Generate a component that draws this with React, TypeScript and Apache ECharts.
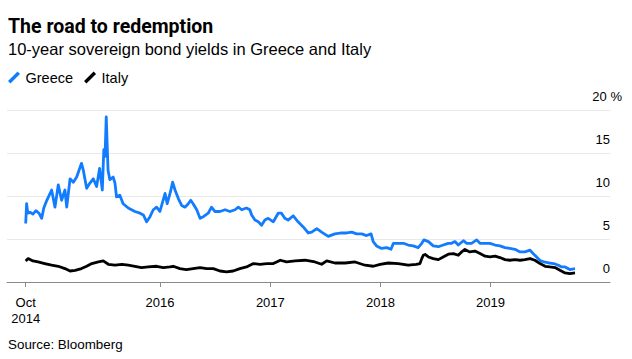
import React, { useEffect, useRef } from "react";
import * as echarts from "echarts";

const greeceDates = [
  "2014-10-13","2014-10-16","2014-10-20","2014-10-27","2014-11-06","2014-11-16","2014-11-26","2014-12-05","2014-12-12","2014-12-22",
  "2015-01-07","2015-01-18","2015-01-29","2015-02-09","2015-02-20","2015-02-26","2015-03-09","2015-03-20","2015-03-31","2015-04-16",
  "2015-04-22","2015-05-03","2015-05-14","2015-05-25","2015-06-05","2015-06-15","2015-06-24","2015-06-29","2015-07-03","2015-07-07",
  "2015-07-13","2015-07-19","2015-07-30","2015-08-05","2015-08-10","2015-08-21","2015-09-01","2015-09-18","2015-10-10","2015-10-27",
  "2015-11-07","2015-11-18","2015-11-29","2015-12-10","2015-12-21","2016-01-01","2016-01-18","2016-01-25","2016-02-05","2016-02-12",
  "2016-02-20","2016-03-02","2016-03-13","2016-03-24","2016-04-04","2016-04-12","2016-04-20","2016-05-02","2016-05-13","2016-05-24",
  "2016-06-09","2016-06-20","2016-07-01","2016-07-18","2016-08-04","2016-08-20","2016-09-06","2016-09-17","2016-09-28","2016-10-14",
  "2016-10-25","2016-10-31","2016-11-11","2016-11-22","2016-12-03","2016-12-14","2016-12-25","2017-01-11","2017-01-27","2017-02-07",
  "2017-02-18","2017-03-01","2017-03-18","2017-04-03","2017-04-20","2017-05-07","2017-05-18","2017-06-04","2017-06-20","2017-07-12",
  "2017-08-03","2017-08-25","2017-09-11","2017-09-28","2017-10-14","2017-10-31","2017-11-16","2017-12-01","2017-12-08","2017-12-19",
  "2018-01-05","2018-01-22","2018-02-05","2018-02-13","2018-03-01","2018-03-18","2018-04-03","2018-04-20","2018-05-06","2018-05-18",
  "2018-05-25","2018-06-09","2018-06-25","2018-07-12","2018-07-28","2018-08-14","2018-08-25","2018-09-05","2018-09-16","2018-10-03",
  "2018-10-14","2018-10-30","2018-11-16","2018-11-27","2018-12-14","2018-12-30","2019-01-16","2019-02-01","2019-02-18","2019-03-06",
  "2019-03-23","2019-04-09","2019-04-25","2019-05-12","2019-05-28","2019-06-14","2019-07-01","2019-07-17","2019-08-03","2019-08-14",
  "2019-08-25","2019-09-05","2019-09-21","2019-10-08"
];
const greeceValues = [
  6.8,9.1,8.0,8.1,7.9,8.3,8.0,7.4,8.6,9.5,
  10.7,8.7,11.3,9.5,10.7,8.7,12.0,11.6,12.2,13.8,
  13.0,10.9,11.5,12.0,11.1,13.2,10.7,15.4,14.6,19.2,
  13.0,11.9,12.2,11.5,9.9,10.1,9.1,8.6,8.2,8.0,
  7.8,7.0,7.6,8.4,8.7,8.2,10.3,9.1,10.5,11.6,
  10.7,9.7,8.9,8.7,9.1,9.5,9.1,8.4,7.4,7.6,
  8.0,8.7,8.2,8.2,8.4,8.2,8.4,8.7,8.4,8.6,
  8.4,7.8,7.2,7.0,6.6,7.2,7.4,7.0,8.0,8.0,
  7.4,7.2,7.7,7.0,6.4,5.7,5.8,6.2,5.8,5.3,
  5.6,5.7,5.7,5.8,5.6,5.6,5.4,5.6,4.7,4.2,
  3.9,4.0,3.8,4.5,4.5,4.5,4.3,4.2,4.0,4.5,
  4.9,4.7,4.2,4.1,4.3,4.5,4.5,4.7,4.3,4.8,
  4.5,4.5,4.9,4.5,4.5,4.5,4.3,4.2,4.0,3.9,
  3.8,3.5,3.5,3.7,3.1,2.5,2.3,2.2,2.1,1.95,
  1.75,1.75,1.45,1.55
];

const italyDates = [
  "2014-10-13","2014-10-21","2014-11-06","2014-11-23","2014-12-15","2015-01-07","2015-01-29","2015-02-20","2015-03-09","2015-03-26",
  "2015-04-16","2015-05-03","2015-05-20","2015-06-11","2015-06-27","2015-07-14","2015-08-05","2015-08-28","2015-09-18","2015-10-10",
  "2015-11-01","2015-11-23","2015-12-21","2016-01-12","2016-02-03","2016-02-14","2016-03-07","2016-03-29","2016-04-20","2016-05-13",
  "2016-06-04","2016-06-26","2016-07-18","2016-08-09","2016-08-31","2016-09-22","2016-10-14","2016-11-06","2016-11-28","2016-12-20",
  "2017-01-11","2017-02-03","2017-02-24","2017-03-24","2017-04-26","2017-05-29","2017-06-20","2017-07-07","2017-08-03","2017-09-06",
  "2017-10-09","2017-11-11","2017-12-08","2017-12-31","2018-01-27","2018-03-01","2018-04-03","2018-04-30","2018-05-12","2018-05-18",
  "2018-05-23","2018-05-29","2018-06-09","2018-06-25","2018-07-12","2018-07-28","2018-08-14","2018-08-31","2018-09-16","2018-09-27",
  "2018-10-08","2018-10-24","2018-11-10","2018-11-27","2018-12-14","2018-12-30","2019-01-16","2019-02-01","2019-02-18","2019-03-06",
  "2019-03-23","2019-04-09","2019-04-25","2019-05-12","2019-05-28","2019-06-14","2019-07-01","2019-07-17","2019-08-03","2019-08-19",
  "2019-09-05","2019-09-21","2019-10-08"
];
const italyValues = [
  2.45,2.72,2.45,2.33,2.14,1.95,1.83,1.56,1.28,1.36,
  1.56,1.83,2.14,2.33,2.45,2.06,1.95,2.06,1.95,1.83,
  1.68,1.75,1.83,1.68,1.75,1.83,1.56,1.45,1.56,1.68,
  1.56,1.56,1.28,1.17,1.28,1.56,1.75,2.14,2.06,2.14,
  2.14,2.53,2.33,2.45,2.53,2.33,2.06,2.45,2.21,2.21,
  2.33,1.95,1.83,2.06,2.21,2.14,1.95,2.06,2.14,2.72,
  3.11,3.2,2.91,2.72,2.6,2.91,3.23,3.3,3.11,3.5,
  3.78,3.5,3.6,3.3,3.0,2.91,3.0,2.84,2.6,2.53,
  2.6,2.53,2.6,2.72,2.53,2.14,1.83,1.75,1.68,1.36,
  1.05,0.98,1.05
];

const tickDates = ["2014-10-13", "2016-01-01", "2017-01-01", "2018-01-01", "2019-01-01"];
const tickLabels = ["Oct\n2014", "2016", "2017", "2018", "2019"];
const yTicks = [0, 5, 10, 15, 20];

const toTs = (s: string) => {
  const [y, m, d] = s.split("-").map(Number);
  return Date.UTC(y, m - 1, d);
};

const FONT = "'Liberation Sans', Arial, sans-serif";

export default function App() {
  const ref = useRef<HTMLDivElement>(null);
  useEffect(() => {
    if (!ref.current) return;
    const chart = echarts.init(ref.current, null, { renderer: "svg" });
    const tickTs = tickDates.map(toTs);
    const labelMap: Record<string, string> = {};
    tickTs.forEach((t, i) => (labelMap[String(t)] = tickLabels[i]));

    chart.setOption({
      animation: false,
      backgroundColor: "#ffffff",
      textStyle: { fontFamily: FONT },
      grid: { left: 7, right: 22, top: 110, bottom: 77, containLabel: false },
      legend: {
        left: 8,
        top: 70,
        padding: 0,
        itemWidth: 13,
        itemHeight: 12,
        itemGap: 11,
        icon: "path://M0,10 L10,0 L12.5,2.5 L2.5,12.5 Z",
        textStyle: { fontFamily: FONT, fontSize: 14.5, color: "#000" },
        data: ["Greece", "Italy"],
      },
      xAxis: {
        type: "value",
        min: toTs("2014-08-12"),
        max: toTs("2020-02-01"),
        axisLine: { show: true, lineStyle: { color: "#8a8a8a", width: 1 } },
        axisTick: {
          show: true,
          length: 5,
          customValues: tickTs,
          lineStyle: { color: "#8a8a8a", width: 1 },
        },
        axisLabel: {
          customValues: tickTs,
          formatter: (v: number) => labelMap[String(v)] ?? "",
          color: "#000",
          fontFamily: FONT,
          fontSize: 13,
          lineHeight: 16.5,
          margin: 12,
        },
        splitLine: { show: false },
      },
      yAxis: {
        type: "value",
        position: "right",
        min: 0,
        max: 20,
        interval: 5,
        axisLine: { show: false },
        axisTick: { show: false },
        splitLine: { show: true, lineStyle: { color: "#e9e9e9", width: 1 } },
        axisLabel: {
          inside: false,
          align: "right",
          verticalAlign: "bottom",
          margin: 12,
          formatter: (v: number) => (v === yTicks[yTicks.length - 1] ? `{a|${v} %}` : `{b|${v}}`),
          rich: {
            a: { fontFamily: FONT, fontSize: 13, color: "#000", padding: [0, 0, 7, 0] },
            b: { fontFamily: FONT, fontSize: 13, color: "#000", padding: [0, 12, 7, 0] },
          },
        },
      },
      series: [
        {
          name: "Greece",
          type: "line",
          showSymbol: false,
          symbol: "none",
          color: "#127cff",
          lineStyle: { color: "#127cff", width: 2.8, join: "round" },
          data: greeceDates.map((d, i) => [toTs(d), greeceValues[i]]),
          z: 3,
        },
        {
          name: "Italy",
          type: "line",
          showSymbol: false,
          symbol: "none",
          color: "#000000",
          lineStyle: { color: "#000000", width: 2.8, join: "round" },
          data: italyDates.map((d, i) => [toTs(d), italyValues[i]]),
          z: 4,
        },
      ],
      graphic: [
        {
          type: "text",
          left: 8,
          top: 16,
          style: {
            text: "The road to redemption",
            fontFamily: "Roboto, sans-serif",
            fontWeight: "bold",
            fontSize: 19.5,
            fill: "#000",
          },
        },
        {
          type: "text",
          left: 8,
          top: 40,
          style: {
            text: "10-year sovereign bond yields in Greece and Italy",
            fontFamily: FONT,
            fontSize: 16.5,
            fill: "#000",
          },
        },
        {
          type: "text",
          left: 8,
          top: 338,
          style: {
            text: "Source: Bloomberg",
            fontFamily: FONT,
            fontSize: 13.4,
            fill: "#000",
          },
        },
      ],
    });
    return () => chart.dispose();
  }, []);

  return (
    <div
      ref={ref}
      style={{ position: "fixed", left: 0, top: 0, width: 632, height: 359, background: "#fff" }}
    />
  );
}
